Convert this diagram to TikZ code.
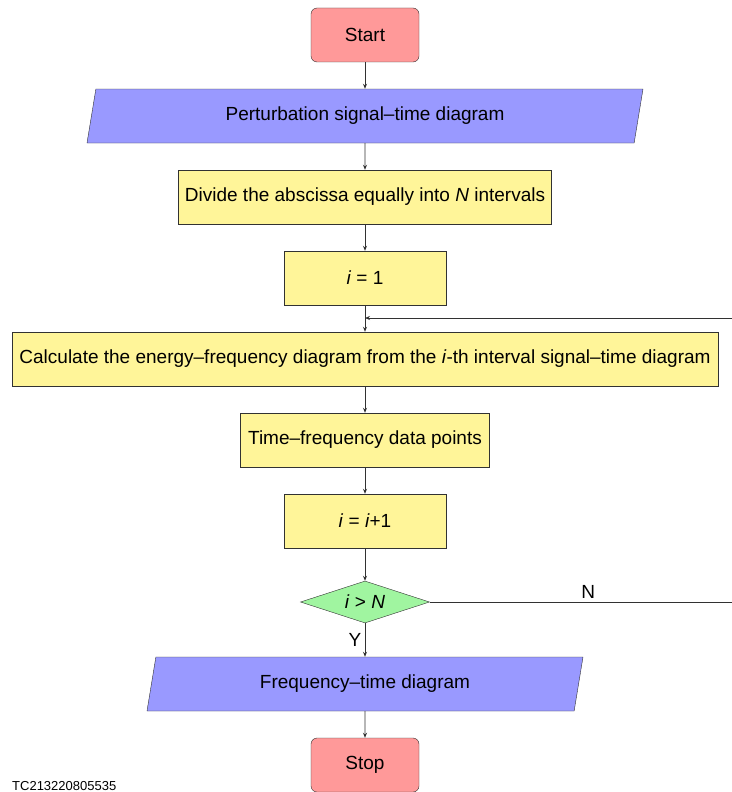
\documentclass[tikz,border=0pt]{standalone}
\usepackage{fontspec}
\setmainfont{Liberation Sans}
\usetikzlibrary{shapes.geometric,arrows.meta}
\definecolor{startred}{RGB}{255,153,153}
\definecolor{ioblue}{RGB}{153,153,255}
\definecolor{procyellow}{RGB}{255,245,153}
\definecolor{decgreen}{RGB}{160,245,160}
\definecolor{edge}{RGB}{50,50,50}
\begin{document}
\begin{tikzpicture}[x=1pt,y=-1pt,
    every node/.style={font=\fontsize{19}{22}\selectfont},
    startstop/.style={draw=edge,fill=startred,rounded corners=6pt,minimum width=108pt,minimum height=54pt},
    io/.style={draw=edge,fill=ioblue,trapezium,trapezium left angle=70,trapezium right angle=110,
        trapezium stretches body,minimum height=54pt},
    process/.style={draw=edge,fill=procyellow,minimum height=54pt},
    decision/.style={draw=edge,fill=decgreen,diamond,aspect=3,inner sep=0pt,minimum width=129pt,minimum height=42pt},
    line/.style={draw=edge,line width=0.8pt,-{Stealth[length=5pt,width=4pt]}}]
    \useasboundingbox (0,0) rectangle (731,792);
    \node[startstop] (start) at (365,35) {Start};
    \node[io,minimum width=556pt] (pert) at (365,116) {Perturbation signal--time diagram};
    \node[process,minimum width=373pt] (divide) at (365,197) {Divide the abscissa equally into \textit{N} intervals};
    \node[process,minimum width=162pt] (init) at (365,278) {\textit{i} = 1};
    \node[process,minimum width=706pt] (calc) at (365,359) {Calculate the energy--frequency diagram from the \textit{i}-th interval signal--time diagram};
    \node[process,minimum width=249pt] (points) at (365,440) {Time--frequency data points};
    \node[process,minimum width=162pt] (incr) at (365,521) {\textit{i} = \textit{i}+1};
    \node[decision] (check) at (365,602) {\textit{i} > \textit{N}};
    \node[io,minimum width=436pt] (freq) at (365,684) {Frequency--time diagram};
    \node[startstop] (stop) at (365,765) {Stop};
    \node[anchor=south west,inner sep=0pt,font=\fontsize{13}{15}\selectfont] (code) at (12,791) {TC213220805535};
    \coordinate (join) at (365,318);
    \coordinate (far) at (760,602);
    \draw[line] (start) -- (pert);
    \draw[line] (pert) -- (divide);
    \draw[line] (divide) -- (init);
    \draw[line] (init) -- (calc);
    \draw[line] (calc) -- (points);
    \draw[line] (points) -- (incr);
    \draw[line] (incr) -- (check);
    \draw[line] (check) -- node[left] {Y} (freq);
    \draw[line] (freq) -- (stop);
    \draw[line] (check.east) -- node[pos=0.48,above] {N} (far) |- (join);
\end{tikzpicture}
\end{document}
